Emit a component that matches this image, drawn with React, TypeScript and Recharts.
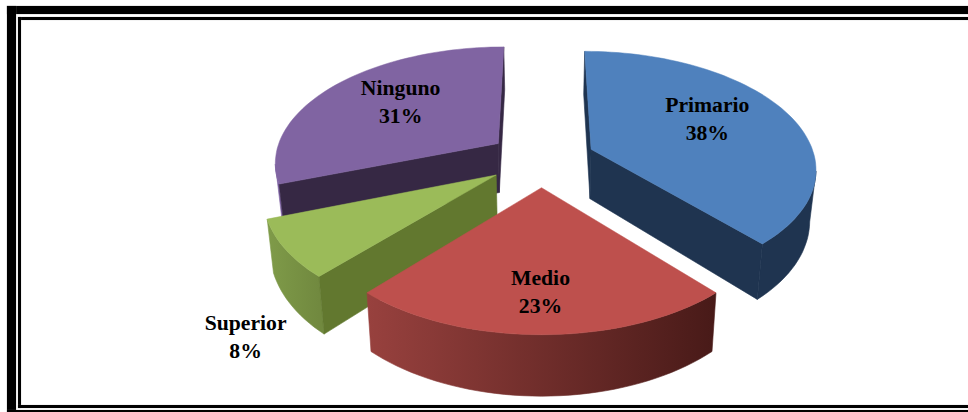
import { Pie, PieChart } from "recharts";

const categories = ["Ninguno", "Superior", "Medio", "Primario"];
const shares = [30.65, 7.8, 23.1, 38.45];

const TOP_COLORS = ["#8064A2", "#9BBB59", "#BE504D", "#4F81BD"];
const SIDE_COLORS = ["#362844", "#62782F", "#000000", "#1F3450"];
const RIM_COLORS = [
  ["#7B5FA0", "#5D4878"],
  ["#7F9B49", "#71893F"],
  ["#98413E", "#481A18"],
  ["#1F3450", "#1F3450"],
];
const LABEL_SPOTS = [
  { r: 0.625, angle: 140.5 },
  { r: 1.42, angle: -128 },
  { r: 0.74, angle: -90.3 },
  { r: 0.625, angle: 27 },
];

const data = categories.map((name, i) => ({ name, value: shares[i] }));

// fake 3D: tilted disc with a little perspective
const TILT = 0.515;
const PERSPECTIVE_Y = 0.15;
const PERSPECTIVE_X = 0.15;
const EXPLODE = 0.24;
const DEPTH = 50;
const CONVERGE = 0.977;
const RAD = Math.PI / 180;

type Pt = { x: number; y: number };

function project(wx: number, wy: number, cx: number, cy: number, R: number): Pt {
  return {
    x: cx + (wx * R) / (1 - PERSPECTIVE_X * wy),
    y: cy + (wy * R * TILT) / (1 - PERSPECTIVE_Y * wy),
  };
}

function drop(pt: Pt, wy: number, cx: number): Pt {
  return { x: cx + (pt.x - cx) * CONVERGE, y: pt.y + DEPTH / (1 - PERSPECTIVE_Y * wy) };
}

const toPath = (pts: Pt[]) =>
  pts.map((p, i) => `${i ? "L" : "M"}${p.x.toFixed(1)},${p.y.toFixed(1)}`).join(" ") + " Z";

// true when the wall hanging from edge a-b is on the outside of the top face
function faces(a: Pt, b: Pt, c: Pt) {
  const ex = b.x - a.x;
  const ey = b.y - a.y;
  return ex * (c.y - a.y) - ey * (c.x - a.x) < 0 === ex > 0;
}

function Slice3D(props: any) {
  const { cx, cy, outerRadius: R, startAngle, endAngle, index } = props;
  const mid = ((startAngle + endAngle) / 2) * RAD;
  const ox = Math.cos(mid) * EXPLODE;
  const oy = -Math.sin(mid) * EXPLODE;

  const rim: { pt: Pt; low: Pt }[] = [];
  const steps = Math.max(6, Math.ceil(Math.abs(endAngle - startAngle) / 2));
  for (let i = 0; i <= steps; i++) {
    const a = (startAngle + ((endAngle - startAngle) * i) / steps) * RAD;
    const wx = ox + Math.cos(a);
    const wy = oy - Math.sin(a);
    const pt = project(wx, wy, cx, cy, R);
    rim.push({ pt, low: drop(pt, wy, cx) });
  }
  const apex = project(ox, oy, cx, cy, R);
  const apexLow = drop(apex, oy, cx);

  const top = [apex, ...rim.map((r) => r.pt)];
  const c = {
    x: top.reduce((s, p) => s + p.x, 0) / top.length,
    y: top.reduce((s, p) => s + p.y, 0) / top.length,
  };

  const walls = [rim[0], rim[rim.length - 1]]
    .filter((r) => faces(apex, r.pt, c))
    .map((r) => [apex, r.pt, r.low, apexLow]);

  const seen = rim.filter((r, i) => {
    const next = rim[i + 1] ?? r;
    const prev = rim[i - 1] ?? r;
    return faces(prev.pt, next.pt, c);
  });
  const gradId = `rim-${index}`;
  const xs = rim.map((r) => r.pt.x);

  return (
    <g>
      <defs>
        <linearGradient
          id={gradId}
          gradientUnits="userSpaceOnUse"
          x1={Math.min(...xs)}
          x2={Math.max(...xs)}
          y1={0}
          y2={0}
        >
          <stop offset="0%" stopColor={RIM_COLORS[index][0]} />
          <stop offset="100%" stopColor={RIM_COLORS[index][1]} />
        </linearGradient>
      </defs>
      {seen.length > 1 && (
        <path
          d={toPath([...seen.map((r) => r.pt), ...seen.map((r) => r.low).reverse()])}
          fill={`url(#${gradId})`}
          stroke={`url(#${gradId})`}
          strokeWidth={0.6}
        />
      )}
      {walls.map((w, i) => (
        <path key={i} d={toPath(w)} fill={SIDE_COLORS[index]} stroke={SIDE_COLORS[index]} strokeWidth={0.6} />
      ))}
      <path d={toPath(top)} fill={TOP_COLORS[index]} stroke={TOP_COLORS[index]} strokeWidth={0.5} />
    </g>
  );
}

function SliceLabel(props: any) {
  const { cx, cy, outerRadius: R, midAngle, name, percent, index } = props;
  const spot = LABEL_SPOTS[index];
  const ox = Math.cos(midAngle * RAD) * EXPLODE;
  const oy = -Math.sin(midAngle * RAD) * EXPLODE;
  const a = spot.angle * RAD;
  const at = project(ox + Math.cos(a) * spot.r, oy - Math.sin(a) * spot.r, cx, cy, R);
  return (
    <text
      x={at.x}
      y={at.y}
      textAnchor="middle"
      fill="#000"
      stroke="none"
      fontFamily="'Liberation Serif', serif"
      fontWeight="bold"
      fontSize={21.7}
    >
      <tspan x={at.x} y={at.y - 7}>
        {name}
      </tspan>
      <tspan x={at.x} y={at.y + 21}>
        {`${Math.round(percent * 100)}%`}
      </tspan>
    </text>
  );
}

const bar = (left: number, top: number, width: number, height: number) => (
  <div
    style={{ position: "absolute", left, top, width, height, background: "#000", boxShadow: "0 0 1px #888" }}
  />
);

export default function App() {
  return (
    <div style={{ position: "absolute", left: 0, top: 0, width: 968, height: 412, overflow: "hidden", background: "#fff" }}>
      {bar(7, 6, 961, 8)}
      {bar(7, 6, 9, 406)}
      {bar(7, 410, 961, 2)}
      {bar(18, 17, 950, 3)}
      {bar(18, 17, 3, 391)}
      {bar(18, 405, 950, 3)}
      <div style={{ position: "absolute", left: 0, top: 0 }}>
        <PieChart width={968} height={412} margin={{ top: 0, right: 0, bottom: 0, left: 0 }}>
          <Pie
            data={data}
            dataKey="value"
            nameKey="name"
            cx={541.5}
            cy={159}
            outerRadius={224}
            startAngle={90}
            endAngle={450}
            stroke="none"
            shape={Slice3D}
            label={SliceLabel}
            labelLine={false}
            isAnimationActive={false}
          />
        </PieChart>
      </div>
    </div>
  );
}
